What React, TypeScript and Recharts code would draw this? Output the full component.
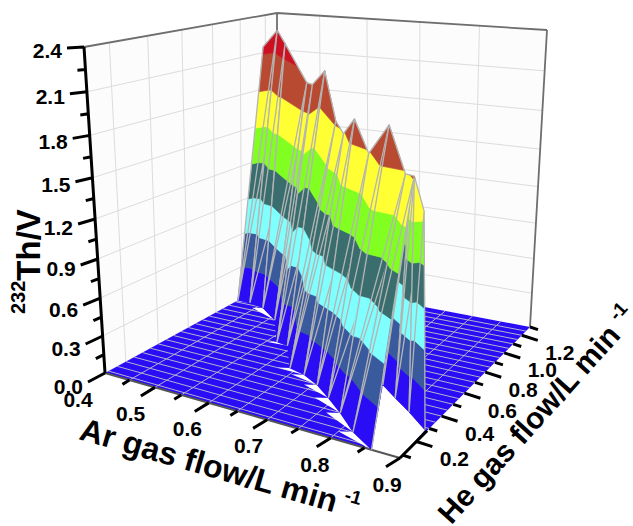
import { LineChart, Line, XAxis, YAxis } from "recharts";

const W = 633;
const H = 526;

// axis values
const AR_GRID = [0.4, 0.45, 0.5, 0.55, 0.6, 0.65, 0.7, 0.75, 0.8, 0.85, 0.9];
const HE_GRID = [0.1, 0.15, 0.2, 0.25, 0.3, 0.35, 0.4, 0.45, 0.5, 0.55, 0.6, 0.65, 0.7, 0.75, 0.8, 0.85, 0.9, 0.95, 1.0, 1.05, 1.1, 1.15, 1.2, 1.25, 1.3];
const AR_MAJOR = [0.4, 0.5, 0.6, 0.7, 0.8, 0.9];
const AR_MINOR = [0.45, 0.55, 0.65, 0.75, 0.85];
const HE_MAJOR = [0.2, 0.4, 0.6, 0.8, 1.0, 1.2];
const HE_MINOR = [0.1, 0.3, 0.5, 0.7, 0.9, 1.1, 1.3];
const Z_MAJOR = [0, 0.3, 0.6, 0.9, 1.2, 1.5, 1.8, 2.1, 2.4];
const Z_MINOR = [0.15, 0.45, 0.75, 1.05, 1.35, 1.65, 1.95, 2.25];

const BAND_LEVELS = [0, 0.3, 0.6, 0.9, 1.2, 1.5, 1.8, 2.1, 2.4];
const BAND_COLORS = ["#2a0cf5", "#3a5a9e", "#80ffff", "#3a6e6e", "#80ff20", "#ffff33", "#b94a32", "#cc1122"];

// front wall of the signal ridge, foot and crest of each mesh column
const MAIN_BASE_AR = [0.4, 0.427, 0.462, 0.512, 0.567, 0.59, 0.639, 0.67, 0.705, 0.74, 0.777, 0.8175, 0.86];
const MAIN_BASE_HE = [0.97, 0.969, 0.945, 0.85, 0.656, 0.644, 0.47, 0.446, 0.395, 0.325, 0.247, 0.152, 0.08];
const MAIN_TOP_AR = [0.412, 0.4225, 0.482, 0.589, 0.606, 0.589, 0.678, 0.706, 0.756, 0.788, 0.843, 0.866, 0.888];
const MAIN_TOP_HE = [1.141, 1.222, 1.072, 0.833, 0.808, 0.974, 0.679, 0.612, 0.465, 0.409, 0.268, 0.255, 0.19];
const MAIN_TOP_Z = [2.16, 2.28, 2.22, 2.02, 2.02, 2.07, 1.83, 1.78, 1.97, 1.78, 2.07, 1.78, 1.82];

// right hand part of the ridge, behind the front wall
const BACK_BASE_AR = [0.788, 0.822, 0.857, 0.897];
const BACK_BASE_HE = [0.515, 0.443, 0.372, 0.283];
const BACK_TOP_AR = [0.83, 0.85, 0.888, 0.892];
const BACK_TOP_HE = [0.36, 0.38, 0.19, 0.24];
const BACK_TOP_Z = [1.7, 1.58, 1.82, 1.57];

// columns of the front wall that leave a gap in the floor at their foot
const GAP_COLUMNS = [0, 2, 4, 6, 7, 8, 9, 10, 11];

const AR_MIN = 0.4;
const AR_MAX = 0.9;
const HE_MIN = 0.08;
const HE_MAX = 1.3;
const Z_MAX = 2.4;

type Pt = { x: number; y: number | null; text?: string };
type P3 = [number, number, number];

// camera: corners of the floor and of the top plane on the page
function quadMap(p00: number[], p10: number[], p11: number[], p01: number[]) {
  const sx = p00[0] - p10[0] + p11[0] - p01[0];
  const sy = p00[1] - p10[1] + p11[1] - p01[1];
  const dx1 = p10[0] - p11[0];
  const dy1 = p10[1] - p11[1];
  const dx2 = p01[0] - p11[0];
  const dy2 = p01[1] - p11[1];
  const den = dx1 * dy2 - dx2 * dy1;
  const g = (sx * dy2 - dx2 * sy) / den;
  const h = (dx1 * sy - sx * dy1) / den;
  const a = p10[0] - p00[0] + g * p10[0];
  const b = p01[0] - p00[0] + h * p01[0];
  const d = p10[1] - p00[1] + g * p10[1];
  const e = p01[1] - p00[1] + h * p01[1];
  return (u: number, v: number) => {
    const w = g * u + h * v + 1;
    return [(a * u + b * v + p00[0]) / w, (d * u + e * v + p00[1]) / w];
  };
}

const floorMap = quadMap([105, 373], [400, 458], [530, 327], [277, 279]);
const topMap = quadMap([84, 47], [410, 92], [547, 30], [277, 13]);

function project(ar: number, he: number, z: number) {
  const u = (ar - AR_MIN) / (AR_MAX - AR_MIN);
  const v = (he - HE_MIN) / (HE_MAX - HE_MIN);
  const t = z / Z_MAX;
  const f = t / (t + 1.116 * (1 - t));
  const p0 = floorMap(u, v);
  const p1 = topMap(u, v);
  return { x: p0[0] + f * (p1[0] - p0[0]), y: p0[1] + f * (p1[1] - p0[1]) };
}

const gapPt = (x: number): Pt => ({ x, y: null });

// join several paths into one series, a null y lifts the pen
function joinPaths(paths: { x: number; y: number }[][]) {
  const out: Pt[] = [];
  paths.forEach((p) => {
    out.push(...p);
    out.push(gapPt(p[p.length - 1].x));
  });
  return out;
}

function clipAt(poly: P3[], level: number, above: boolean) {
  const out: P3[] = [];
  const inside = (p: P3) => (above ? p[2] >= level : p[2] <= level);
  poly.forEach((a, i) => {
    const b = poly[(i + 1) % poly.length];
    if (inside(a)) out.push(a);
    if (inside(a) !== inside(b)) {
      const s = (level - a[2]) / (b[2] - a[2]);
      out.push([a[0] + s * (b[0] - a[0]), a[1] + s * (b[1] - a[1]), level]);
    }
  });
  return out;
}

type SeriesDef = { data: Pt[]; fill?: string; stroke: string; width: number };

const MESH = "#b4b4b4";

function wallSeries(baseAr: number[], baseHe: number[], topAr: number[], topHe: number[], topZ: number[]) {
  const out: SeriesDef[] = [];
  const corner = (i: number): P3[] => [
    [baseAr[i], baseHe[i], 0],
    [topAr[i], topHe[i], topZ[i]],
  ];
  for (let i = 0; i < baseAr.length - 1; i++) {
    const [b0, t0] = corner(i);
    const [b1, t1] = corner(i + 1);
    const tris: P3[][] = [[t0, t1, b0], [b0, t1, b1]];
    BAND_COLORS.forEach((color, k) => {
      const paths = tris
        .map((tri) => clipAt(clipAt(tri, BAND_LEVELS[k], true), BAND_LEVELS[k + 1], false))
        .filter((poly) => poly.length > 2)
        .map((poly) => {
          const pts = poly.map((p) => project(p[0], p[1], p[2]));
          return [...pts, pts[0]];
        });
      if (paths.length) out.push({ data: joinPaths(paths), fill: color, stroke: color, width: 0.6 });
    });
    const edges = [[b0, t0], [b0, t1], [t0, t1], [b1, t1]];
    if (i + 2 < baseAr.length) edges.push([b0, corner(i + 2)[1]]);
    out.push({ data: joinPaths(edges.map((s) => s.map((p) => project(p[0], p[1], p[2])))), stroke: MESH, width: 1.3 });
  }
  return out;
}

function quad(ar0: number, he0: number, ar1: number, he1: number, z0: number, z1: number) {
  const a = project(ar0, he0, z0);
  const b = project(ar1, he1, z0);
  const c = project(ar1, he1, z1);
  const d = project(ar0, he0, z1);
  return [a, b, c, d, a];
}

const seg = (a: P3, b: P3) => [project(a[0], a[1], a[2]), project(b[0], b[1], b[2])];
const shift = (p: { x: number; y: number }, dx: number, dy: number) => ({ x: p.x + dx, y: p.y + dy });

const wallGrid = joinPaths([
  ...HE_MAJOR.map((he) => seg([AR_MIN, he, 0], [AR_MIN, he, Z_MAX])),
  ...AR_MAJOR.slice(1, 5).map((ar) => seg([ar, HE_MAX, 0], [ar, HE_MAX, Z_MAX])),
  ...Z_MAJOR.slice(1, 8).map((z) => seg([AR_MIN, HE_MIN, z], [AR_MIN, HE_MAX, z])),
  ...Z_MAJOR.slice(1, 8).map((z) => seg([AR_MIN, HE_MAX, z], [AR_MAX, HE_MAX, z])),
]);

const frame = joinPaths([
  seg([AR_MIN, HE_MIN, Z_MAX], [AR_MIN, HE_MAX, Z_MAX]),
  seg([AR_MIN, HE_MAX, Z_MAX], [AR_MAX, HE_MAX, Z_MAX]),
  seg([AR_MAX, HE_MAX, Z_MAX], [AR_MAX, HE_MAX, 0]),
  seg([AR_MIN, HE_MAX, Z_MAX], [AR_MIN, HE_MAX, 0]),
]);

const floorLines = joinPaths([
  ...AR_GRID.slice(1, 10).map((ar) => seg([ar, HE_MIN, 0], [ar, HE_MAX, 0])),
  ...HE_GRID.slice(0, 24).map((he) => seg([AR_MIN, he, 0], [AR_MAX, he, 0])),
]);

const floorPoly = (() => {
  const a = project(AR_MIN, HE_MIN, 0);
  const b = project(AR_MAX, HE_MIN, 0);
  const c = project(AR_MAX, HE_MAX, 0);
  const d = project(AR_MIN, HE_MAX, 0);
  return [a, b, c, d, a];
})();

const lastMain = MAIN_BASE_AR.length - 1;
const floorGaps = joinPaths([
  ...GAP_COLUMNS.map((i) => {
    const a = project(MAIN_BASE_AR[i] - 0.018, MAIN_BASE_HE[i] - 0.02, 0);
    const b = project(MAIN_BASE_AR[i + 1], MAIN_BASE_HE[i + 1], 0);
    const c = project(MAIN_BASE_AR[i], MAIN_BASE_HE[i], 0);
    return [a, b, c, a];
  }),
  [
    project(MAIN_BASE_AR[lastMain], MAIN_BASE_HE[lastMain], 0),
    ...BACK_BASE_AR.map((ar, i) => project(ar, BACK_BASE_HE[i], 0)),
    project(AR_MAX, HE_MIN, 0),
    project(MAIN_BASE_AR[lastMain], MAIN_BASE_HE[lastMain], 0),
  ],
]);

const zTick = (z: number, len: number) => {
  const p = project(AR_MIN, HE_MIN, z);
  const drop = 1 + 8 * (1 - z / Z_MAX);
  return [p, shift(p, -len, (drop * len) / 17)];
};
const arTick = (ar: number, len: number) => {
  const p = project(ar, HE_MIN, 0);
  return [p, shift(p, -len, len * 0.62)];
};
const heTick = (he: number, len: number) => {
  const p = project(AR_MAX, he, 0);
  return [p, shift(p, len, len * 0.32)];
};

const axisLines = joinPaths([
  seg([AR_MIN, HE_MIN, 0], [AR_MIN, HE_MIN, Z_MAX]),
  seg([AR_MAX, HE_MIN, 0], [AR_MAX, 0.283, 0]),
  ...Z_MAJOR.map((z) => zTick(z, 17)),
  ...Z_MINOR.map((z) => zTick(z, 8)),
  ...AR_MAJOR.slice(1).map((ar) => arTick(ar, 14)),
  ...AR_MINOR.map((ar) => arTick(ar, 7)),
  ...HE_MAJOR.map((he) => heTick(he, 16)),
  ...HE_MINOR.map((he) => heTick(he, 8)),
]);

const FONT = "'Liberation Sans', Arial, sans-serif";

const tickLabels: Pt[] = [
  ...Z_MAJOR.map((z) => {
    const p = zTick(z, 22)[1];
    return { x: p.x, y: p.y + 2, text: "z" + z.toFixed(1) };
  }),
  ...AR_MAJOR.map((ar, i) => {
    const p = project(ar, HE_MIN, 0);
    return { x: p.x - 27 + 2.8 * i, y: p.y + 26, text: "m" + ar.toFixed(1) };
  }),
  ...HE_MAJOR.map((he) => {
    const p = project(AR_MAX, he, 0);
    return { x: p.x + 38, y: p.y + 17, text: "m" + he.toFixed(1) };
  }),
];

function TickText(props: any) {
  const { cx, cy, payload, index } = props;
  const kind = payload.text[0];
  return (
    <text
      key={index}
      x={cx}
      y={cy}
      textAnchor={kind === "z" ? "end" : "middle"}
      dominantBaseline="central"
      fontFamily={FONT}
      fontWeight="bold"
      fontSize={21}
      fill="#000"
    >
      {payload.text.slice(1)}
    </text>
  );
}

const titleAnchors = [
  { ...project(AR_MIN, HE_MIN, 0), text: "ar" },
  { ...project(AR_MAX, 0.2, 0), text: "he" },
  { ...project(AR_MIN, HE_MIN, 0), text: "z" },
];

function TitleText(props: any) {
  const { cx, cy, payload, index } = props;
  const base = { fontFamily: FONT, fontWeight: "bold" as const, fill: "#000" };
  if (payload.text === "ar") {
    const x = cx - 27;
    const y = cy + 66;
    return (
      <text key={index} x={x} y={y} transform={`rotate(16 ${x} ${y})`} fontSize={32} {...base}>
        Ar gas flow/L min
        <tspan fontSize={19} dx={6} dy={-14}>-1</tspan>
      </text>
    );
  }
  if (payload.text === "he") {
    const x = cx + 35;
    const y = cy + 84;
    return (
      <text key={index} x={x} y={y} transform={`rotate(-48 ${x} ${y})`} fontSize={30} {...base}>
        He gas flow/L min
        <tspan fontSize={19} dx={8} dy={-13}>-1</tspan>
      </text>
    );
  }
  const x = 40;
  const y = 314;
  return (
    <text key={index} x={x} y={y} transform={`rotate(-90 ${x} ${y})`} fontSize={33} {...base}>
      <tspan fontSize={20} dy={-15}>232</tspan>
      <tspan dy={15}>Th/V</tspan>
    </text>
  );
}

const series: SeriesDef[] = [
  { data: [...quad(AR_MIN, HE_MIN, AR_MIN, HE_MAX, 0, Z_MAX)], fill: "#fcfcfc", stroke: "none", width: 0 },
  { data: [...quad(AR_MIN, HE_MAX, AR_MAX, HE_MAX, 0, Z_MAX)], fill: "#fcfcfc", stroke: "none", width: 0 },
  { data: wallGrid, stroke: "#dcdcdc", width: 1 },
  { data: frame, stroke: "#6e6e6e", width: 1.8 },
  { data: floorPoly, fill: BAND_COLORS[0], stroke: "none", width: 0 },
  { data: floorLines, stroke: "#b4b4c8", width: 1 },
  { data: floorGaps, fill: "#ffffff", stroke: "none", width: 0 },
  { data: joinPaths([seg([AR_MIN, HE_MIN, 0], [AR_MAX, HE_MIN, 0])]), stroke: "#555555", width: 2 },
  ...wallSeries(BACK_BASE_AR, BACK_BASE_HE, BACK_TOP_AR, BACK_TOP_HE, BACK_TOP_Z),
  ...wallSeries(MAIN_BASE_AR, MAIN_BASE_HE, MAIN_TOP_AR, MAIN_TOP_HE, MAIN_TOP_Z),
  { data: axisLines, stroke: "#000000", width: 3 },
];

export default function App() {
  return (
    <div style={{ position: "absolute", left: 0, top: 0, width: W, height: H, overflow: "hidden", background: "#fff" }}>
      <LineChart width={W} height={H} margin={{ top: 0, right: 0, bottom: 0, left: 0 }}>
        <XAxis type="number" dataKey="x" domain={[0, W]} hide />
        <YAxis type="number" domain={[0, H]} reversed hide />
        {series.map((s, i) => (
          <Line
            key={i}
            data={s.data}
            dataKey="y"
            type="linear"
            stroke={s.stroke}
            strokeWidth={s.width}
            style={s.fill ? { fill: s.fill } : undefined}
            dot={false}
            activeDot={false}
            legendType="none"
            isAnimationActive={false}
          />
        ))}
        <Line data={tickLabels} dataKey="y" stroke="none" dot={TickText} activeDot={false} legendType="none" isAnimationActive={false} />
        <Line data={titleAnchors} dataKey="y" stroke="none" dot={TitleText} activeDot={false} legendType="none" isAnimationActive={false} />
      </LineChart>
    </div>
  );
}
